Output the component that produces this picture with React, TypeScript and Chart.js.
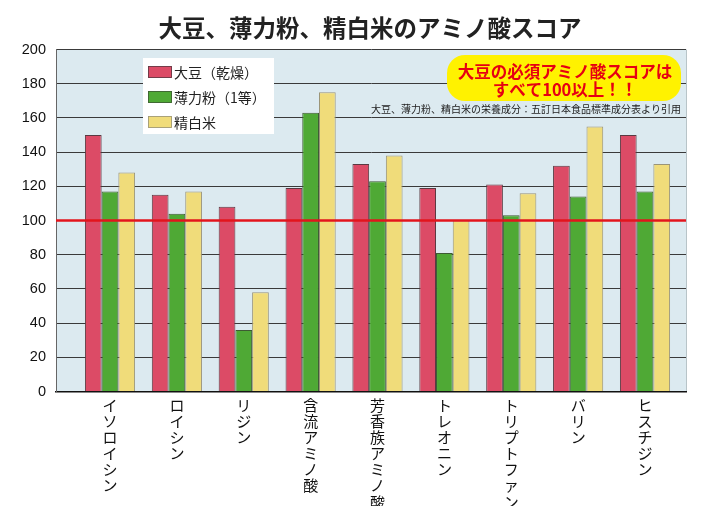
import React, { useEffect, useRef } from "react";
import { Chart, registerables } from "chart.js";

Chart.register(...registerables);

const categories = ["イソロイシン", "ロイシン", "リジン", "含流アミノ酸", "芳香族アミノ酸", "トレオニン", "トリプトファン", "バリン", "ヒスチジン"];
const seriesNames = ["大豆（乾燥）", "薄力粉（1等）", "精白米"];
const soybean = [150, 115, 108, 119, 133, 119, 121, 132, 150];
const flour = [117, 104, 36, 163, 123, 81, 103, 114, 117];
const rice = [128, 117, 58, 175, 138, 100, 116, 155, 133];
const yTicks = [0, 20, 40, 60, 80, 100, 120, 140, 160, 180, 200];
const referenceLine = 100;
const titleText = "大豆、薄力粉、精白米のアミノ酸スコア";
const calloutLines = ["大豆の必須アミノ酸スコアは", "すべて100以上！！"];
const noteText = "大豆、薄力粉、精白米の栄養成分：五訂日本食品標準成分表より引用";

const colors = ["#dc4b66", "#4fa935", "#f0dc7a"];
const borders = ["#5a3a42", "#3d5a33", "#9a9478"];
const JP = "'Noto Sans CJK JP', 'Noto Sans', sans-serif";

function roundRect(ctx: CanvasRenderingContext2D, x: number, y: number, w: number, h: number, r: number) {
  ctx.beginPath();
  ctx.moveTo(x + r, y);
  ctx.lineTo(x + w - r, y);
  ctx.arcTo(x + w, y, x + w, y + r, r);
  ctx.lineTo(x + w, y + h - r);
  ctx.arcTo(x + w, y + h, x + w - r, y + h, r);
  ctx.lineTo(x + r, y + h);
  ctx.arcTo(x, y + h, x, y + h - r, r);
  ctx.lineTo(x, y + r);
  ctx.arcTo(x, y, x + r, y, r);
  ctx.closePath();
}

const decorPlugin = {
  id: "decor",
  beforeDraw(chart: any) {
    const { ctx, chartArea } = chart;
    ctx.save();
    ctx.fillStyle = "#ffffff";
    ctx.fillRect(0, 0, chart.width, chart.height);
    ctx.fillStyle = "#dceaf0";
    ctx.fillRect(chartArea.left, chartArea.top, chartArea.right - chartArea.left, chartArea.bottom - chartArea.top);
    ctx.strokeStyle = "#b8c4c8";
    ctx.lineWidth = 1;
    ctx.beginPath();
    ctx.moveTo(chartArea.right + 0.5, chartArea.top);
    ctx.lineTo(chartArea.right + 0.5, chartArea.bottom);
    ctx.stroke();
    ctx.restore();
  },
  afterDatasetsDraw(chart: any) {
    const { ctx, chartArea, scales } = chart;
    const y = scales.y.getPixelForValue(referenceLine);
    ctx.save();
    ctx.strokeStyle = "#e3141c";
    ctx.lineWidth = 2.5;
    ctx.beginPath();
    ctx.moveTo(chartArea.left, y);
    ctx.lineTo(chartArea.right, y);
    ctx.stroke();
    ctx.restore();
  },
  afterDraw(chart: any) {
    const { ctx } = chart;
    ctx.save();
    // title
    ctx.fillStyle = "#222";
    ctx.font = `bold 23.5px ${JP}`;
    ctx.textAlign = "center";
    ctx.textBaseline = "middle";
    ctx.fillText(titleText, 370, 28);

    // legend
    ctx.fillStyle = "#ffffff";
    ctx.fillRect(143, 58, 131, 76);
    ctx.font = `14px ${JP}`;
    ctx.textAlign = "left";
    seriesNames.forEach((name, i) => {
      const cy = 72 + i * 25;
      ctx.fillStyle = colors[i];
      ctx.fillRect(148, cy - 6, 24, 12);
      ctx.strokeStyle = borders[i];
      ctx.lineWidth = 0.8;
      ctx.strokeRect(148.5, cy - 5.5, 23, 11);
      ctx.fillStyle = "#222";
      ctx.fillText(name, 174, cy + 1);
    });

    // callout
    ctx.fillStyle = "#fff200";
    roundRect(ctx, 447, 55, 234, 46, 18);
    ctx.fill();
    ctx.fillStyle = "#e60012";
    ctx.font = `bold 16.5px ${JP}`;
    ctx.textAlign = "center";
    ctx.fillText(calloutLines[0], 565, 72);
    ctx.fillText(calloutLines[1], 565, 90);

    // note
    ctx.fillStyle = "#222";
    ctx.font = `10px ${JP}`;
    ctx.textAlign = "right";
    ctx.fillText(noteText, 681, 109);
    ctx.restore();
  },
};

export default function App() {
  const ref = useRef<HTMLCanvasElement | null>(null);
  useEffect(() => {
    document.body.style.margin = "0";
    const canvas = ref.current;
    if (!canvas) return;
    const makeData = (vals: number[]) => vals.map((v, i) => ({ x: i, y: v }));
    const seriesValues = [soybean, flour, rice];
    const chart = new Chart(canvas, {
      type: "bar",
      data: {
        datasets: seriesNames.map((name, i) => ({
          label: name,
          data: makeData(seriesValues[i]),
          backgroundColor: colors[i],
          borderColor: borders[i],
          borderWidth: 1,
          categoryPercentage: 0.75,
          barPercentage: 1,
        })),
      },
      options: {
        animation: false,
        responsive: false,
        devicePixelRatio: 1,
        layout: { padding: { top: 49.5, right: 15, left: 0, bottom: 0 } },
        plugins: { legend: { display: false }, title: { display: false }, tooltip: { enabled: false } },
        scales: {
          x: {
            type: "linear",
            offset: false,
            min: -0.8075,
            max: 8.613,
            grid: { display: false, drawTicks: false, offset: false },
            border: { display: true, color: "#111", width: 1.5 },
            afterBuildTicks: (scale: any) => {
              scale.ticks = categories.map((_, i) => ({ value: i }));
            },
            afterFit: (scale: any) => {
              scale.height = 114.5;
            },
            ticks: {
              autoSkip: false,
              maxRotation: 0,
              minRotation: 0,
              padding: 6,
              color: "#111",
              font: { family: JP, size: 15, lineHeight: 1.07 },
              callback: (value: any) => {
                const name = categories[Math.round(Number(value))];
                return name ? name.split("") : "";
              },
            },
          },
          y: {
            min: 0,
            max: 200,
            afterBuildTicks: (scale: any) => {
              scale.ticks = yTicks.map((v) => ({ value: v }));
            },
            afterFit: (scale: any) => {
              scale.width = 56;
            },
            grid: { color: "#3a3a3a", lineWidth: 1, drawTicks: false },
            border: { display: true, color: "#666", width: 1 },
            ticks: {
              padding: 10,
              color: "#111",
              font: { family: "'Liberation Sans', Arial, sans-serif", size: 14.5 },
            },
          },
        },
      },
      plugins: [decorPlugin],
    } as any);
    return () => chart.destroy();
  }, []);
  return <canvas ref={ref} width={701} height={506} style={{ display: "block" }} />;
}
